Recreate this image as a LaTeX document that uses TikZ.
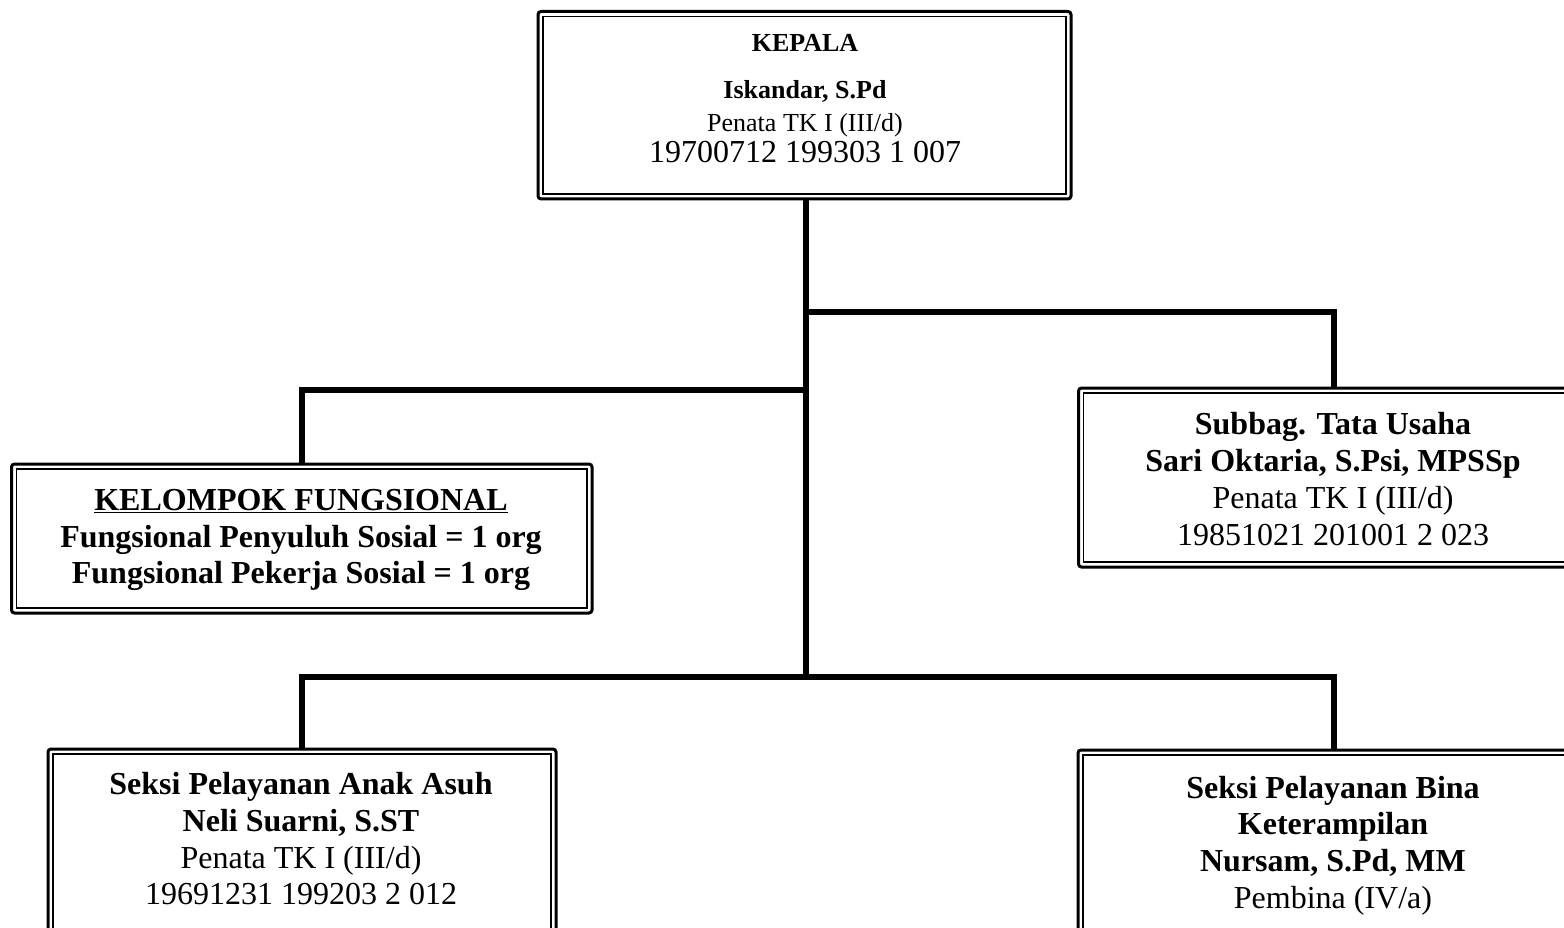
\documentclass[tikz,border=0pt]{standalone}
\usepackage{fontspec}
\setmainfont{Liberation Serif}
\begin{document}
\begin{tikzpicture}[x=1pt,y=-1pt,
  boxo/.style={draw, line width=3pt, rounded corners=3pt, inner sep=0pt, outer sep=0pt},
  inbox/.style={line width=1.5pt},
  conn/.style={line width=6pt, line join=miter, line cap=butt},
  bt/.style={anchor=base, inner sep=0pt, font=\bfseries\fontsize{32}{38}\selectfont},
  rt/.style={anchor=base, inner sep=0pt, font=\fontsize{32}{38}\selectfont},
  bts/.style={anchor=base, inner sep=0pt, font=\bfseries\fontsize{26}{30}\selectfont},
  rts/.style={anchor=base, inner sep=0pt, font=\fontsize{26}{30}\selectfont}]
\useasboundingbox (0,0) rectangle (1564,928);
\fill[white] (0,0) rectangle (1564,928);
\clip (0,0) rectangle (1564,928);

% boxes
\node[boxo, minimum width=533pt, minimum height=187.5pt] (top) at (804.5,105.25) {};
\node[boxo, minimum width=511pt, minimum height=179pt] (sub) at (1334,477.5) {};
\node[boxo, minimum width=580.5pt, minimum height=149pt] (kel) at (301.75,538.5) {};
\node[boxo, minimum width=508pt, minimum height=221pt] (sa) at (302,859.5) {};
\node[boxo, minimum width=512pt, minimum height=220pt] (sb) at (1334,860) {};
\foreach \b in {top,sub,kel,sa,sb}
  \draw[inbox] ([shift={(5,5)}]\b.north west) rectangle ([shift={(-5,-5)}]\b.south east);

% connectors
\coordinate (j1) at (806,312);
\coordinate (j2) at (806,390);
\coordinate (j3) at (806,677);
\draw[conn] (top.south -| j1) -- (j3);
\draw[conn] (j1) -| (sub.north);
\draw[conn] (j2) -| (kel.north);
\draw[conn] (sa.north) |- (j3) -| (sb.north);

% texts: top
\node[bts] (t1) at (805,52) {KEPALA};
\node[bts] (t2) at (805,99) {Iskandar, S.Pd};
\node[rts] (t3) at (805,132) {Penata TK I (III/d)};
\node[rt]  (t4) at (805,163) {19700712 199303 1 007};

% sub
\node[bt] (s1) at (1333,434) {Subbag. Tata Usaha};
\node[bt] (s2) at (1333,471) {Sari Oktaria, S.Psi, MPSSp};
\node[rt] (s3) at (1333,508) {Penata TK I (III/d)};
\node[rt] (s4) at (1333,545) {19851021 201001 2 023};

% kel
\node[bt] (k1) at (301,510) {\underline{KELOMPOK FUNGSIONAL}};
\node[bt] (k2) at (301,547) {Fungsional Penyuluh Sosial = 1 org};
\node[bt] (k3) at (301,583) {Fungsional Pekerja Sosial = 1 org};

% seksi anak asuh
\node[bt] (a1) at (301,794) {Seksi Pelayanan Anak Asuh};
\node[bt] (a2) at (301,831) {Neli Suarni, S.ST};
\node[rt] (a3) at (301,868) {Penata TK I (III/d)};
\node[rt] (a4) at (301,904) {19691231 199203 2 012};

% seksi bina
\node[bt] (b1) at (1333,798) {Seksi Pelayanan Bina};
\node[bt] (b2) at (1333,834) {Keterampilan};
\node[bt] (b3) at (1333,871) {Nursam, S.Pd, MM};
\node[rt] (b4) at (1333,908) {Pembina (IV/a)};
\end{tikzpicture}
\end{document}
